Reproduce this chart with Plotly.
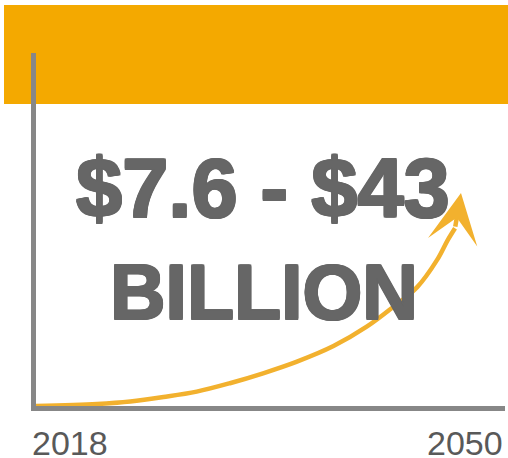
import plotly.graph_objects as go

# illustrative growth curve (x = year, y = value in $ billion)
years = [2018.0, 2022.6, 2025.1, 2027.6, 2030.1, 2032.6, 2035.1, 2037.6,
         2040.4, 2042.9, 2044.9, 2046.7, 2048.2, 2049.0, 2049.55]
values = [0.0, 0.4, 0.9, 1.8, 2.9, 4.6, 6.6, 8.9,
          12.1, 16.0, 20.0, 24.0, 29.5, 33.5, 35.9]
arrow_tip = (2050, 43)

headline = "$7.6 - $43"
unit_label = "BILLION"
start_label = "2018"
end_label = "2050"

BAND = "#F4A900"
CURVE = "#F2B12E"
AXIS = "#878787"
TEXT = "#666666"
LABEL = "#595959"

W, H = 508, 458
L, R, T, B = 36, 3, 53, 52
pw, ph = W - L - R, H - T - B


def px(xp):
    return (xp - L) / pw


def py(yp):
    return (H - B - yp) / ph


fig = go.Figure()
fig.add_trace(go.Scatter(
    x=years, y=values, mode="lines",
    line=dict(color=CURVE, width=4.5, shape="spline", smoothing=1.0),
    cliponaxis=False, hoverinfo="skip", showlegend=False,
))

fig.add_annotation(
    x=arrow_tip[0], y=arrow_tip[1], ax=years[-1], ay=values[-1],
    xref="x", yref="y", axref="x", ayref="y", text="",
    showarrow=True, arrowhead=3, arrowwidth=4.5, arrowsize=1.85,
    arrowcolor=CURVE, standoff=0,
)

d = 1
shadow = ", ".join(f"{a}px {b}px 0 {TEXT}" for a in (-d, 0, d) for b in (-d, 0, d)
                   if (a, b) != (0, 0))
big_font = dict(family="Liberation Sans, Arial, sans-serif", size=83,
                color=TEXT, weight="bold", shadow=shadow)
fig.add_annotation(x=px(262.5), y=py(188), xref="paper", yref="paper",
                   text=headline, showarrow=False, font=big_font,
                   xanchor="center", yanchor="middle")
fig.add_annotation(x=px(264), y=py(292), xref="paper", yref="paper",
                   text=unit_label, showarrow=False,
                   font=dict(big_font, size=77),
                   xanchor="center", yanchor="middle")

lab_font = dict(family="Liberation Sans, Arial, sans-serif", size=34, color=LABEL)
fig.add_annotation(x=px(30), y=py(442.5), xref="paper", yref="paper",
                   text=start_label, showarrow=False, font=lab_font,
                   xanchor="left", yanchor="middle")
fig.add_annotation(x=px(505), y=py(442.5), xref="paper", yref="paper",
                   text=end_label, showarrow=False, font=lab_font,
                   xanchor="right", yanchor="middle")

fig.add_shape(type="rect", xref="paper", yref="paper",
              x0=px(4), x1=px(508), y0=py(104), y1=py(5),
              fillcolor=BAND, line=dict(width=0), layer="below")

fig.update_layout(
    width=W, height=H,
    margin=dict(l=L, r=R, t=T, b=B, pad=0),
    paper_bgcolor="white", plot_bgcolor="white",
    showlegend=False,
    xaxis=dict(range=[2018, 2018 + pw / 13.281], showgrid=False, zeroline=False,
               showticklabels=False, ticks="", showline=True,
               linecolor=AXIS, linewidth=5, fixedrange=True),
    yaxis=dict(range=[0, ph / 4.9535], showgrid=False, zeroline=False,
               showticklabels=False, ticks="", showline=True,
               linecolor=AXIS, linewidth=5, fixedrange=True),
)

fig.write_html(
    "out.html",
    config=dict(displayModeBar=False),
    post_script="document.body.style.margin='0';document.body.style.overflow='hidden';",
)
